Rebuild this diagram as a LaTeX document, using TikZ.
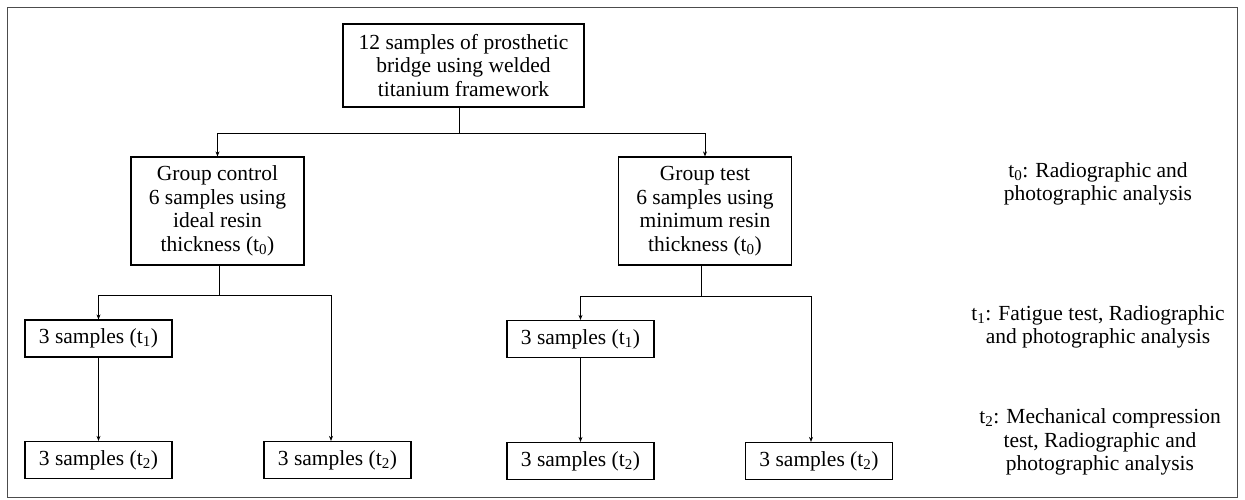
\documentclass[tikz,border=0pt]{standalone}
\usepackage{fontspec}
\setmainfont{Liberation Serif}
\usetikzlibrary{arrows.meta}
\begin{document}
\begin{tikzpicture}[x=1pt,y=-1pt,
  every node/.style={font=\rmfamily\fontsize{21.5}{23.5}\selectfont},
  box/.style={draw=black, line width=1.2pt, align=center, inner sep=0pt},
  small/.style={box, minimum width=147pt, minimum height=37pt},
  grp/.style={box, minimum width=173pt, minimum height=108pt},
  lbl/.style={align=center, inner sep=0pt},
  conn/.style={line width=0.9pt, draw=black},
  arr/.style={conn, -{Stealth[length=5pt,width=4pt]}}]
\useasboundingbox (0,0) rectangle (1245,499);
\draw[line width=1pt, draw=black!70] (7,7) rectangle (1237,497);

\node[box, minimum width=241pt, minimum height=83pt] (top) at (463.5,65.5)
  {12 samples of prosthetic\\bridge using welded\\titanium framework};

\node[grp] (gc) at (217.5,211) {Group control\\6 samples using\\ideal resin\\thickness (t\textsubscript{0})};
\node[grp] (gt) at (705,211) {Group test\\6 samples using\\minimum resin\\thickness (t\textsubscript{0})};

\node[small] (L1) at (98.5,338.5) {3 samples (t\textsubscript{1})};
\node[small] (L2a) at (98.5,460) {3 samples (t\textsubscript{2})};
\node[small] (L2b) at (337.5,460) {3 samples (t\textsubscript{2})};
\node[small] (R1) at (580.5,339) {3 samples (t\textsubscript{1})};
\node[small] (R2a) at (580.5,461) {3 samples (t\textsubscript{2})};
\node[small] (R2b) at (819,461) {3 samples (t\textsubscript{2})};

\node[lbl] (lab0) at (1098,184) {t\textsubscript{0}: Radiographic and\\photographic analysis};
\node[lbl] (lab1) at (1098,327) {t\textsubscript{1}: Fatigue test, Radiographic\\and photographic analysis};
\node[lbl] (lab2) at (1100,442) {t\textsubscript{2}: Mechanical compression\\test, Radiographic and\\photographic analysis};

% connectors
\draw[conn] ([xshift=-4pt]top.south) -- ++(0,26) coordinate (j0);
\draw[arr] (j0) -| (gc.north);
\draw[arr] (j0) -| (gt.north);

\draw[conn] ([xshift=1.5pt]gc.south) -- ++(0,30) coordinate (b1);
\draw[arr] (b1) -| (L1.north);
\draw[arr] (b1) -| ([xshift=-6.5pt]L2b.north);
\draw[arr] (L1) -- (L2a);

\draw[conn] ([xshift=-4pt]gt.south) -- ++(0,31) coordinate (b2);
\draw[arr] (b2) -| (R1.north);
\draw[arr] (b2) -| ([xshift=-8pt]R2b.north);
\draw[arr] (R1) -- (R2a);
\end{tikzpicture}
\end{document}
